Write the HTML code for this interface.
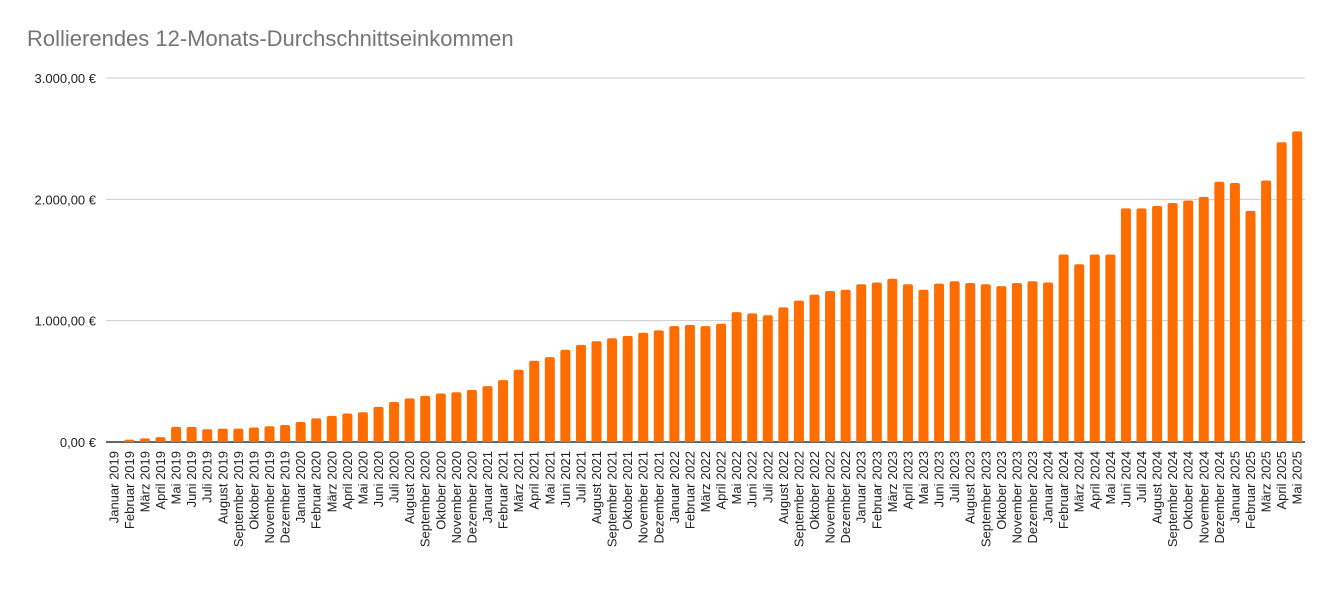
<!DOCTYPE html>
<html><head><meta charset="utf-8"><style>
body{margin:0;background:#fff;font-family:"Liberation Sans",sans-serif}
svg text{font-family:"Liberation Sans",sans-serif}
</style></head><body>
<svg width="1335" height="586" xmlns="http://www.w3.org/2000/svg">
<text x="27" y="46" font-size="22" fill="#757575">Rollierendes 12-Monats-Durchschnittseinkommen</text>
<g id="grid"></g><g id="bars"></g><g id="xl"></g>
</svg>
<script>
const monthNames=["Januar","Februar","März","April","Mai","Juni","Juli","August","September","Oktober","November","Dezember"];
const categories=[];
for(let y=2019;y<=2025;y++)for(let m=0;m<12;m++){if(y===2025&&m>4)break;categories.push(monthNames[m]+" "+y);}
const values=[0,20,30,40,125,125,105,110,110,120,130,140,
165,195,215,235,245,290,330,360,380,400,410,430,
460,510,595,670,700,760,800,830,855,875,900,920,
955,965,955,975,1070,1060,1045,1110,1165,1215,1245,1255,
1300,1315,1345,1300,1255,1305,1325,1310,1300,1285,1310,1325,
1315,1545,1465,1545,1545,1925,1925,1945,1970,1990,2020,2145,
2135,1905,2155,2470,2560];
const ticks=[0,1000,2000,3000];
const tickLabels=["0,00 €","1.000,00 €","2.000,00 €","3.000,00 €"];
const NS="http://www.w3.org/2000/svg";
const x0=106,x1=1305,y0=442,yTop=78,maxV=3000;
const step=(x1-x0)/categories.length;
const yS=v=>y0-(v/maxV)*(y0-yTop);
const xC=i=>x0+step*(i+0.5);
const grid=document.getElementById('grid'),bars=document.getElementById('bars'),xl=document.getElementById('xl');
ticks.forEach((t,i)=>{
 const l=document.createElementNS(NS,'line');
 
 
 l.setAttribute('x1',x0);l.setAttribute('x2',x1);l.setAttribute('y1',yS(t));l.setAttribute('y2',yS(t));
 l.setAttribute('stroke',t===0?'#333':'#ccc');l.setAttribute('stroke-width',t===0?1.5:1);
 grid.appendChild(l);
 const tx=document.createElementNS(NS,'text');
 
 
 tx.setAttribute('x',96);tx.setAttribute('y',yS(t)+5);tx.setAttribute('text-anchor','end');tx.setAttribute('font-size','13');tx.setAttribute('fill','#222');
 tx.textContent=tickLabels[i];grid.appendChild(tx);
});
values.forEach((v,i)=>{
 if(v>0){const r=document.createElementNS(NS,'path');
 
 
 const w=10,x=xC(i)-w/2,y=yS(v),h=y0-y,rr=Math.min(2,h);
 r.setAttribute('d',`M${x},${y0}V${y+rr}Q${x},${y} ${x+rr},${y}H${x+w-rr}Q${x+w},${y} ${x+w},${y+rr}V${y0}Z`);
 r.setAttribute('fill','#ff6d01');bars.appendChild(r);}
 const t=document.createElementNS(NS,'text');
 
 
 const cx=xC(i)+4.5;
 t.setAttribute('transform',`translate(${cx},451) rotate(-90)`);
 t.setAttribute('text-anchor','end');t.setAttribute('font-size','13');t.setAttribute('fill','#222');
 t.textContent=categories[i];xl.appendChild(t);
});
</script>
</body></html>
